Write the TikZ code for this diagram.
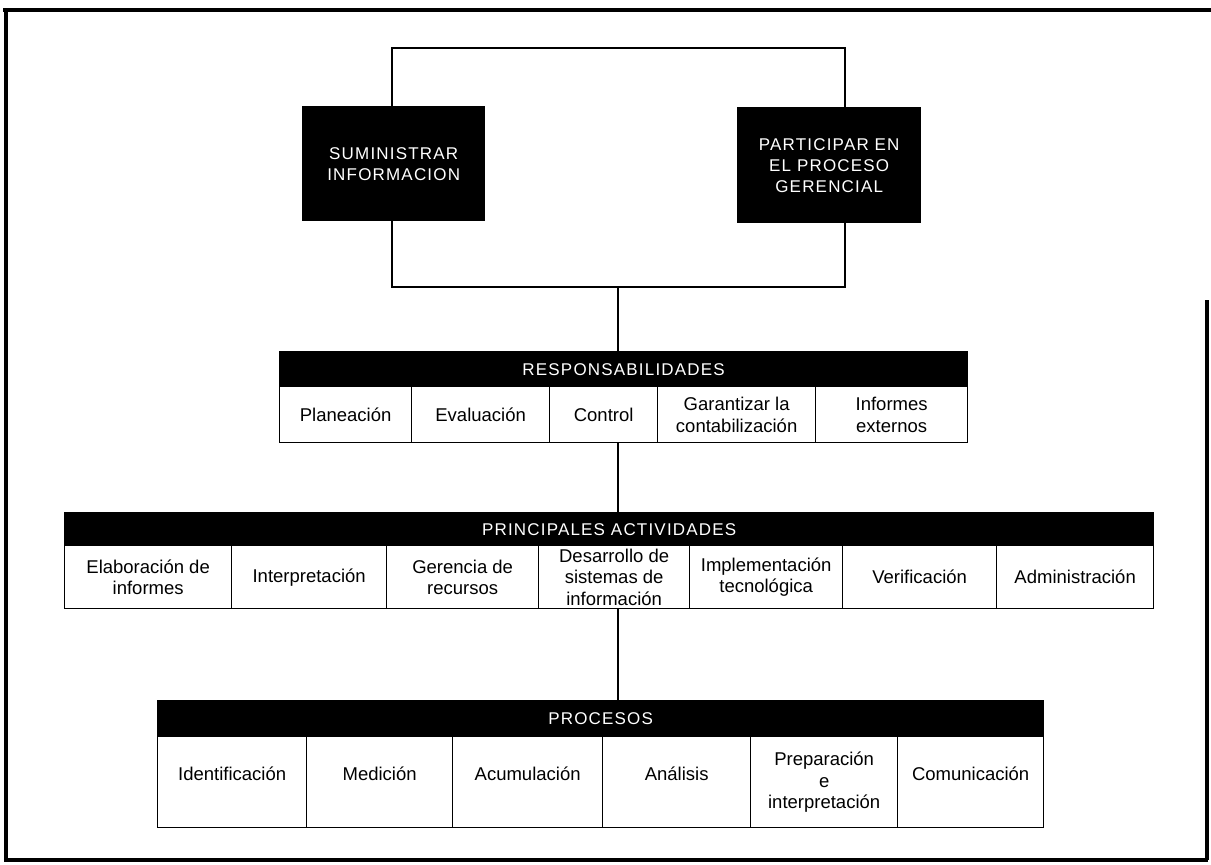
\documentclass[tikz,border=0pt]{standalone}
\usepackage{fontspec}
\setmainfont{Liberation Sans}
\newfontfamily\hdrfont[LetterSpace=7]{Liberation Sans}
\begin{document}
\begin{tikzpicture}[x=1pt,y=-1pt,
  cell/.style={draw, line width=1.3pt, inner sep=0pt, align=center,
    font=\fontsize{18.5}{21.5}\selectfont, anchor=north west, minimum height=#1},
  hdr/.style={fill=black, draw=black, line width=1.3pt, inner sep=0pt, text=white,
    font=\hdrfont\fontsize{17}{20}\selectfont, anchor=north west},
  blk/.style={fill=black, inner sep=0pt, text=white, align=center,
    font=\hdrfont\fontsize{17}{21}\selectfont, anchor=north west},
  conn/.style={line width=2pt},
  frame/.style={line width=4pt}]
\useasboundingbox (0,0) rectangle (1211,865);

% outer frame
\draw[frame] (3,10) -- (1211,10);
\draw[frame] (6,10) -- (6,860) -- (1208,860);
\draw[frame] (1207,300) -- (1207,860);

% top black boxes
\node[blk, minimum width=183pt, minimum height=115pt] (sb) at (302,106) {\mbox{}\\[-9pt]SUMINISTRAR\\INFORMACION};
\node[blk, minimum width=184pt, minimum height=116pt] (pb) at (737,107) {PARTICIPAR EN\\EL PROCESO\\GERENCIAL};

\coordinate (tl) at (392,48);
\coordinate (tr) at (845,48);
\coordinate (bl) at (392,287);
\coordinate (br) at (845,287);
\coordinate (bm) at (618,287);

\draw[conn] (sb.north -| tl) -- (tl) -- (tr) -- (pb.north -| tr);
\draw[conn] (sb.south -| bl) -- (bl) -- (br) -- (pb.south -| br);

% Responsabilidades
\node[hdr, minimum width=688pt, minimum height=35pt] (rh) at (279,351) {RESPONSABILIDADES};
\node[cell=56pt, minimum width=132pt] (r1) at (279,386) {Planeación};
\node[cell=56pt, minimum width=138pt] (r2) at (411,386) {Evaluación};
\node[cell=56pt, minimum width=108pt] (r3) at (549,386) {Control};
\node[cell=56pt, minimum width=158pt] (r4) at (657,386) {Garantizar la\\contabilización};
\node[cell=56pt, minimum width=152pt] (r5) at (815,386) {Informes\\externos};

% Principales actividades
\node[hdr, minimum width=1089pt, minimum height=33pt] (ah) at (64,512) {PRINCIPALES ACTIVIDADES};
\node[cell=63pt, minimum width=167pt] (a1) at (64,545) {Elaboración de\\informes};
\node[cell=63pt, minimum width=155pt] (a2) at (231,545) {Interpretación};
\node[cell=63pt, minimum width=152pt] (a3) at (386,545) {Gerencia de\\recursos};
\node[cell=63pt, minimum width=151pt] (a4) at (538,545) {Desarrollo de\\sistemas de\\información};
\node[cell=63pt, minimum width=153pt] (a5) at (689,545) {Implementación\\tecnológica};
\node[cell=63pt, minimum width=154pt] (a6) at (842,545) {Verificación};
\node[cell=63pt, minimum width=157pt] (a7) at (996,545) {Administración};

% Procesos
\node[hdr, minimum width=886pt, minimum height=36pt] (ph) at (157,700) {PROCESOS};
\node[cell=91pt, minimum width=149pt] (p1) at (157,736) {Identificación\\[-4pt]};
\node[cell=91pt, minimum width=146pt] (p2) at (306,736) {Medición\\[-4pt]};
\node[cell=91pt, minimum width=150pt] (p3) at (452,736) {Acumulación\\[-4pt]};
\node[cell=91pt, minimum width=148pt] (p4) at (602,736) {Análisis\\[-4pt]};
\node[cell=91pt, minimum width=147pt] (p5) at (750,736) {Preparación\\e\\interpretación};
\node[cell=91pt, minimum width=146pt] (p6) at (897,736) {Comunicación\\[-4pt]};

% vertical connectors
\draw[conn] (bm) -- (bm |- rh.north);
\draw[conn] (r3.south -| bm) -- (ah.north -| bm);
\draw[conn] (a4.south -| bm) -- (ph.north -| bm);
\end{tikzpicture}
\end{document}
